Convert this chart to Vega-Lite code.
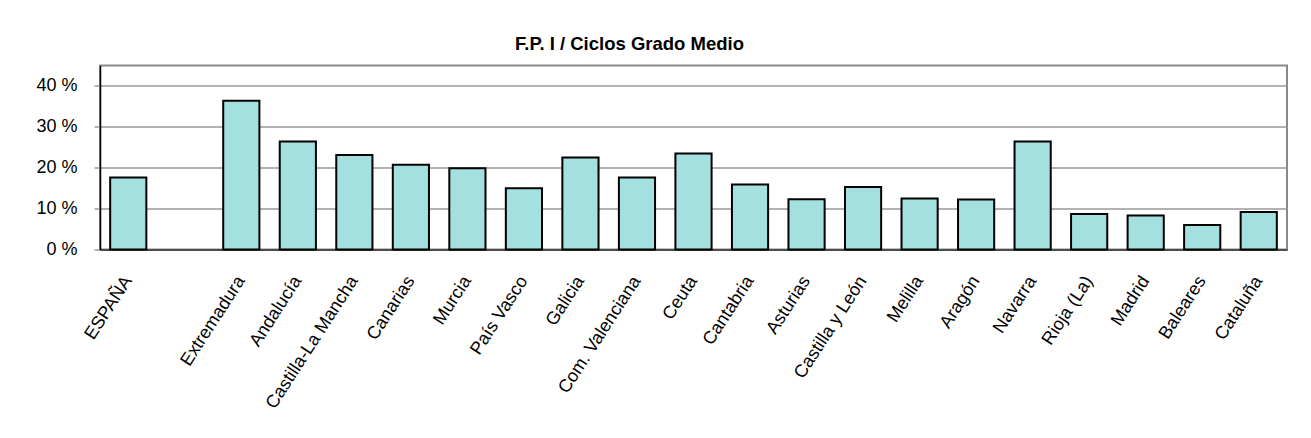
{
  "$schema": "https://vega.github.io/schema/vega-lite/v6.json",
  "width": 1187,
  "height": 184,
  "autosize": {"type": "none"},
  "padding": {"left": 100, "top": 65.5, "right": 24, "bottom": 188.5},
  "background": "white",
  "title": {
    "text": "F.P. I / Ciclos Grado Medio",
    "font": "Liberation Sans",
    "fontSize": 18.5,
    "fontWeight": "bold",
    "color": "black",
    "anchor": "middle",
    "dx": -64,
    "dy": 17,
    "offset": 14,
    "baseline": "alphabetic"
  },
  "data": {
    "values": [
      {"region": "ESPAÑA", "pct": 17.6},
      {"region": "Extremadura", "pct": 36.4},
      {"region": "Andalucía", "pct": 26.4},
      {"region": "Castilla-La Mancha", "pct": 23.1},
      {"region": "Canarias", "pct": 20.7},
      {"region": "Murcia", "pct": 19.9},
      {"region": "País Vasco", "pct": 15.0},
      {"region": "Galicia", "pct": 22.5},
      {"region": "Com. Valenciana", "pct": 17.6},
      {"region": "Ceuta", "pct": 23.5},
      {"region": "Cantabria", "pct": 15.9},
      {"region": "Asturias", "pct": 12.3},
      {"region": "Castilla y León", "pct": 15.3},
      {"region": "Melilla", "pct": 12.5},
      {"region": "Aragón", "pct": 12.2},
      {"region": "Navarra", "pct": 26.4},
      {"region": "Rioja (La)", "pct": 8.7},
      {"region": "Madrid", "pct": 8.3},
      {"region": "Baleares", "pct": 6.0},
      {"region": "Cataluña", "pct": 9.2}
    ]
  },
  "mark": {"type": "bar", "fill": "#A4E0E0", "stroke": "black", "strokeWidth": 2},
  "encoding": {
    "x": {
      "field": "region",
      "type": "nominal",
      "sort": null,
      "scale": {
        "domain": ["ESPAÑA", " ", "Extremadura", "Andalucía", "Castilla-La Mancha", "Canarias", "Murcia", "País Vasco", "Galicia", "Com. Valenciana", "Ceuta", "Cantabria", "Asturias", "Castilla y León", "Melilla", "Aragón", "Navarra", "Rioja (La)", "Madrid", "Baleares", "Cataluña"],
        "paddingInner": 0.36,
        "paddingOuter": 0.18
      },
      "axis": {
        "title": null,
        "labelAngle": -57,
        "labelAlign": "right",
        "labelBaseline": "middle",
        "labelFont": "Liberation Sans",
        "labelFontSize": 18,
        "labelColor": "black",
        "labelPadding": 28,
        "labelOverlap": false,
        "ticks": false,
        "grid": false,
        "domainColor": "#333333",
        "domainWidth": 1.5
      }
    },
    "y": {
      "field": "pct",
      "type": "quantitative",
      "scale": {"domain": [0, 45], "nice": false},
      "axis": {
        "title": null,
        "values": [0, 10, 20, 30, 40],
        "labelExpr": "datum.value + ' %'",
        "labelFont": "Liberation Sans",
        "labelFontSize": 18,
        "labelColor": "black",
        "labelPadding": 17,
        "tickSize": 6,
        "tickColor": "#999999",
        "tickWidth": 1.5,
        "gridColor": "#999999",
        "gridWidth": 1.5,
        "domainColor": "black",
        "domainWidth": 1.5
      }
    }
  },
  "config": {"view": {"stroke": "#888888", "strokeWidth": 2}}
}
